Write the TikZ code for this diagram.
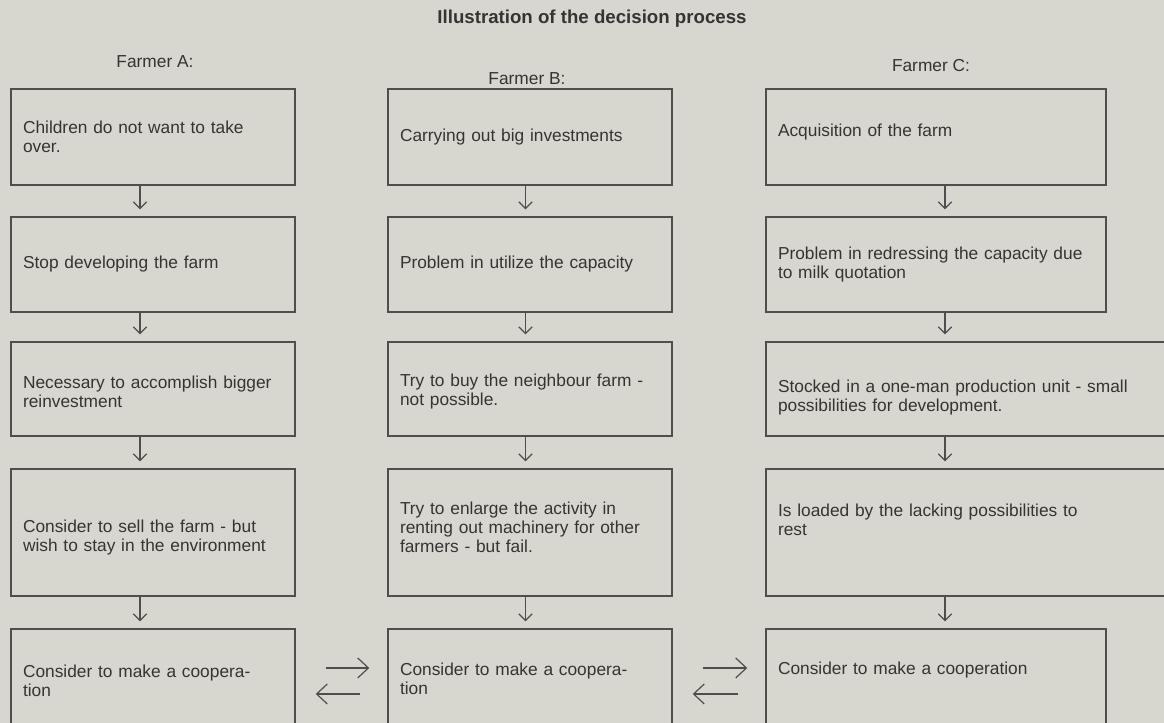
\documentclass[tikz,border=0pt]{standalone}
\usepackage{fontspec}
\setmainfont{Liberation Sans}
\usetikzlibrary{arrows.meta}
\definecolor{paper}{HTML}{D8D7CF}
\definecolor{ink}{HTML}{343432}
\definecolor{rule}{HTML}{4E4E4C}

\begin{document}
\begin{tikzpicture}[x=0.75pt, y=-0.75pt, color=ink,
    font=\fontsize{13pt}{14.25pt}\selectfont,
    box/.style={draw=rule, line width=1.1pt, inner xsep=9pt, inner ysep=0pt, align=left},
    narrowbox/.style={box, text width=195pt},
    widebox/.style={box, text width=237pt},
    widerbox/.style={box, text width=307.5pt},
    lift/.style={text depth=#1},
    down/.style={draw=rule, line width=0.9pt, shorten >=5.25pt, -{Straight Barb[length=5pt,width=10pt]}},
    side/.style={draw=rule, line width=0.9pt, -{Straight Barb[length=8pt,width=15pt]}}]
    \fill[paper] (0,0) rectangle (1164,723);
    \useasboundingbox (0,0) rectangle (1164,723);
    \clip (0,0) rectangle (1164,723);

    \node[anchor=base, font=\fontsize{14pt}{16pt}\selectfont\bfseries] (title) at (592,24) {Illustration of the decision process};
    \node[anchor=base] (farmerA) at (155,68) {Farmer A:};
    \node[anchor=base] (farmerB) at (527,85) {Farmer B:};
    \node[anchor=base] (farmerC) at (931,72) {Farmer C:};

    \node[narrowbox, minimum height=72pt] (a1) at (153,137) {Children do not want to take\\over.};
    \node[narrowbox, minimum height=72pt] (b1) at (530,137) {Carrying out big investments};
    \node[widebox, minimum height=72pt, lift=10pt] (c1) at (936,137) {Acquisition of the farm};

    \node[narrowbox, minimum height=71.25pt] (a2) at (153,264.5) {Stop developing the farm};
    \node[narrowbox, minimum height=71.25pt] (b2) at (530,264.5) {Problem in utilize the capacity};
    \node[widebox, minimum height=71.25pt] (c2) at (936,264.5) {Problem in redressing the capacity due\\to milk quotation};

    \node[narrowbox, minimum height=70.5pt, lift=9.75pt] (a3) at (153,389) {Necessary to accomplish bigger\\reinvestment};
    \node[narrowbox, minimum height=70.5pt, lift=12.45pt] (b3) at (530,389) {Try to buy the neighbour farm -\\not possible.};
    \node[widerbox, minimum height=70.5pt, lift=3.45pt] (c3) at (983,389) {Stocked in a one-man production unit - small\\possibilities for development.};

    \node[narrowbox, minimum height=95.25pt, lift=9.45pt] (a4) at (153,532.5) {Consider to sell the farm - but\\wish to stay in the environment};
    \node[narrowbox, minimum height=95.25pt, lift=36pt] (b4) at (530,532.5) {Try to enlarge the activity in\\renting out machinery for other\\farmers - but fail.};
    \node[widerbox, minimum height=95.25pt, lift=33.75pt] (c4) at (983,532.5) {Is loaded by the lacking possibilities to\\rest};

    \node[narrowbox, minimum height=83.25pt, lift=20.25pt] (a5) at (153,684.5) {Consider to make a coopera-\\tion};
    \node[narrowbox, minimum height=83.25pt, lift=23.25pt] (b5) at (530,684.5) {Consider to make a coopera-\\tion};
    \node[widebox, minimum height=83.25pt, lift=24.5pt] (c5) at (936,684.5) {Consider to make a cooperation};

    % arrow columns
    \coordinate (xa) at (140,0);
    \coordinate (xb) at (525.5,0);
    \coordinate (xc) at (945,0);

    \draw[down] (a1.south -| xa) -- (a2.north -| xa);
    \draw[down] (a2.south -| xa) -- (a3.north -| xa);
    \draw[down] (a3.south -| xa) -- (a4.north -| xa);
    \draw[down] (a4.south -| xa) -- (a5.north -| xa);
    \draw[down] (b1.south -| xb) -- (b2.north -| xb);
    \draw[down] (b2.south -| xb) -- (b3.north -| xb);
    \draw[down] (b3.south -| xb) -- (b4.north -| xb);
    \draw[down] (b4.south -| xb) -- (b5.north -| xb);
    \draw[down] (c1.south -| xc) -- (c2.north -| xc);
    \draw[down] (c2.south -| xc) -- (c3.north -| xc);
    \draw[down] (c3.south -| xc) -- (c4.north -| xc);
    \draw[down] (c4.south -| xc) -- (c5.north -| xc);

    % cooperation both ways
    \draw[side] ([xshift=22.5pt,yshift=12.4pt]a5.east) -- ([xshift=-13.5pt,yshift=12.4pt]b5.west);
    \draw[side] ([xshift=-20.25pt,yshift=-7.1pt]b5.west) -- ([xshift=15pt,yshift=-7.1pt]a5.east);
    \draw[side] ([xshift=22.5pt,yshift=12.4pt]b5.east) -- ([xshift=-13.5pt,yshift=12.4pt]c5.west);
    \draw[side] ([xshift=-20.25pt,yshift=-7.1pt]c5.west) -- ([xshift=15pt,yshift=-7.1pt]b5.east);
\end{tikzpicture}
\end{document}
